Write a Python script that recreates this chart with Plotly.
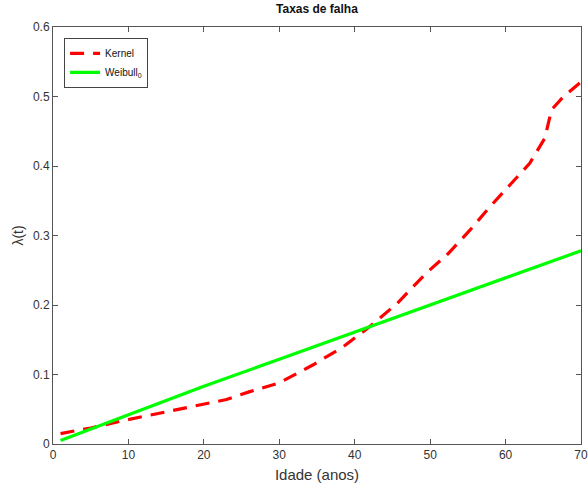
import plotly.graph_objects as go

# Kernel hazard estimate
kernel_age = [1, 5, 9, 13, 19, 23, 26, 30, 34.5, 38.5, 42, 45.6, 49.5, 52.4, 55.3, 57.9, 60.6, 63.2, 65.2, 66.1, 67.7, 69.2, 70]
kernel_rate = [0.015, 0.023, 0.033, 0.042, 0.056, 0.064, 0.075, 0.088, 0.114, 0.140, 0.169, 0.202, 0.246, 0.274, 0.308, 0.341, 0.373, 0.404, 0.440, 0.481, 0.500, 0.514, 0.521]

# Weibull_0 hazard
weibull_age = [1, 10, 20, 30, 40, 50, 60, 70]
weibull_rate = [0.005, 0.042, 0.083, 0.122, 0.161, 0.200, 0.239, 0.278]

x_ticks = [0, 10, 20, 30, 40, 50, 60, 70]
y_ticks = [0, 0.1, 0.2, 0.3, 0.4, 0.5, 0.6]

fig = go.Figure()
fig.add_trace(go.Scatter(x=kernel_age, y=kernel_rate, mode="lines", name="Kernel",
                         line=dict(color="#FF0000", width=3.2, dash="14px,9px")))
fig.add_trace(go.Scatter(x=weibull_age, y=weibull_rate, mode="lines", name="Weibull<sub>0</sub>",
                         line=dict(color="#00FF00", width=3.2)))

axis_common = dict(showline=True, linecolor="#555555", linewidth=1, mirror="ticks",
                   ticks="inside", ticklen=5, tickcolor="#555555", showgrid=False, zeroline=False,
                   tickfont=dict(family="Liberation Sans, Arial, sans-serif", size=12, color="#333333"))

fig.update_layout(
    width=588, height=483,
    margin=dict(l=53, r=7, t=27, b=39, autoexpand=False),
    plot_bgcolor="white", paper_bgcolor="white",
    font=dict(family="Liberation Sans, Arial, sans-serif", color="#222222"),
    title=dict(text="<b>Taxas de falha</b>", x=0.539, xanchor="center", y=0.981, yanchor="middle",
               font=dict(size=12, color="#111111")),
    xaxis=dict(range=[0, 70], tickvals=x_ticks, ticktext=[str(v) for v in x_ticks],
               title=dict(text="Idade (anos)", standoff=9, font=dict(size=15, color="#333333")),
               **axis_common),
    yaxis=dict(range=[0, 0.6], tickvals=y_ticks, ticktext=["0", "0.1", "0.2", "0.3", "0.4", "0.5", "0.6"],
               title=dict(text="λ(t)", standoff=6, font=dict(size=14, color="#333333")),
               **axis_common),
    legend=dict(x=0.021, y=0.974, xanchor="left", yanchor="top", bgcolor="white",
                bordercolor="#444444", borderwidth=1, tracegroupgap=0,
                font=dict(size=10, color="#111111"), itemwidth=30),
    showlegend=True,
)

fig.write_html("out.html", config={"displayModeBar": False},
               post_script="document.body.style.margin='0';document.body.style.padding='0';")
